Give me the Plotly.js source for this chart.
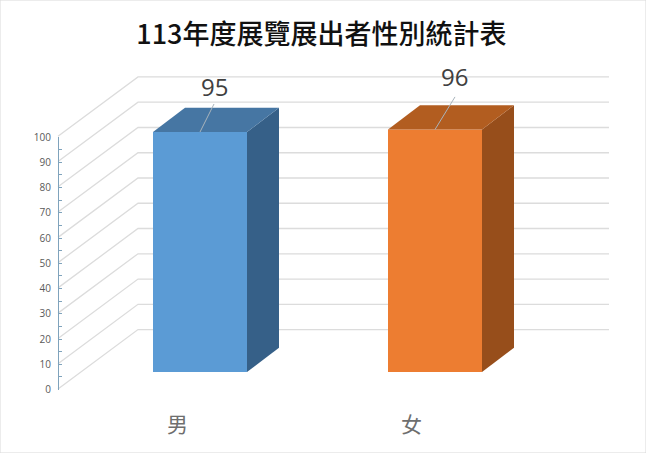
<!DOCTYPE html>
<html>
<head>
<meta charset="utf-8">
<script src="https://cdn.plot.ly/plotly-3.0.1.min.js"></script>
<style>html,body{margin:0;padding:0;background:#fff}</style>
</head>
<body>
<div id="chart" style="width:646px;height:453px"></div>
<script>
const categories = ['男', '女'];
const values = [95, 96];
const barCenters = [200, 435];
const labelXs = [177, 411];
const valueLabelXs = [214, 454];
const gridValues = [0, 10, 20, 30, 40, 50, 60, 70, 80, 90, 100];
const frontColors = ['#5B9BD5', '#ED7D31'];
const topColors = ['#4676A3', '#B25D20'];
const sideColors = ['#366088', '#974E1B'];
const title = '113年度展覽展出者性別統計表';

const W = 646, H = 453;
const unit = 2.526, zeroPx = 372;            // main scale: value 0 on the bar's front plane
const barW = 94, depthX = 32, depthY = 9.6;  // bar depth
const axisX = 58, wallX = 138, wallEnd = 609, axisShift = -6.7, wallShift = 16.8;
const leaderFrom = [214, 455], leaderRise = [11.1, 12.9], labelRise = [18.2, 20.8];

const cjk = '"Noto Sans CJK TC","Noto Sans",sans-serif';
const traces = [];

// walls (bottom subplot)
const gx = [], gy = [];
gridValues.forEach(v => {
  gx.push(axisX, wallX, wallEnd, null);
  gy.push(v + axisShift, v + wallShift, v + wallShift, null);
});
traces.push({type:'scatter', mode:'lines', x:gx, y:gy, xaxis:'x', yaxis:'y',
  line:{color:'#DCDCDC', width:1.3}, hoverinfo:'skip', showlegend:false});

// invisible trace that carries the value axis
traces.push({type:'scatter', mode:'markers', x:[0], y:[0], xaxis:'x2', yaxis:'y2',
  marker:{opacity:0}, hoverinfo:'skip', showlegend:false});

// front faces
traces.push({type:'bar', x:barCenters, y:values, width:barW, xaxis:'x3', yaxis:'y3',
  marker:{color:frontColors, line:{width:0}}, hoverinfo:'skip', showlegend:false});

// side and top faces
values.forEach((v, i) => {
  const l = barCenters[i] - barW / 2, r = barCenters[i] + barW / 2;
  traces.push({type:'scatter', mode:'lines', fill:'toself', fillcolor:sideColors[i],
    x:[r, r + depthX, r + depthX, r, r], y:[0, depthY, v + depthY, v, 0],
    xaxis:'x3', yaxis:'y3', line:{width:0, color:sideColors[i]}, hoverinfo:'skip', showlegend:false});
  traces.push({type:'scatter', mode:'lines', fill:'toself', fillcolor:topColors[i],
    x:[l, l + depthX, r + depthX, r, l], y:[v, v + depthY, v + depthY, v, v],
    xaxis:'x3', yaxis:'y3', line:{width:0, color:topColors[i]}, hoverinfo:'skip', showlegend:false});
  traces.push({type:'scatter', mode:'lines',
    x:[barCenters[i], leaderFrom[i]], y:[v, v + leaderRise[i]],
    xaxis:'x3', yaxis:'y3', line:{width:1, color:'#A9B4BC'}, hoverinfo:'skip', showlegend:false});
});

const mainRange = [(zeroPx - H) / unit, zeroPx / unit];
const hidden = {visible:false, showgrid:false, zeroline:false};
const layout = {
  width:W, height:H,
  margin:{l:0, r:0, t:0, b:0, pad:0},
  paper_bgcolor:'#fff', plot_bgcolor:'rgba(0,0,0,0)',
  showlegend:false, hovermode:false,
  title:{text:title, x:0.4975, xanchor:'center', y:0.9245, yanchor:'middle',
    font:{family:cjk, size:27, color:'#111', weight:500}},
  xaxis:Object.assign({range:[0, W], domain:[0, 1]}, hidden),
  yaxis:Object.assign({range:mainRange, domain:[0, 1]}, hidden),
  xaxis3:Object.assign({range:[0, W], overlaying:'x', matches:'x'}, hidden),
  yaxis3:Object.assign({range:mainRange, overlaying:'y', matches:'y'}, hidden),
  xaxis2:Object.assign({range:[0, W], domain:[0, 1], anchor:'y2'}, hidden),
  yaxis2:{
    range:[0, 100], domain:[(H - 389.5) / H, (H - 137) / H],
    anchor:'free', position:axisX / W, side:'left',
    showgrid:false, zeroline:false, showline:true, linecolor:'#7FA3BC', linewidth:1,
    tick0:0, dtick:10, ticks:'inside', ticklen:3, tickwidth:1, tickcolor:'#7FA3BC',
    minor:{dtick:5, ticks:'inside', ticklen:3, tickwidth:1, tickcolor:'#7FA3BC', showgrid:false},
    ticklabelstandoff:5,
    tickfont:{family:'"Open Sans",sans-serif', size:10, color:'#595959'}
  },
  annotations:[
    ...categories.map((c, i) => ({text:c, xref:'x', yref:'y', x:labelXs[i], y:-20.2,
      showarrow:false, xanchor:'center', yanchor:'middle',
      font:{family:cjk, size:21, color:'#6E6E6E'}})),
    ...values.map((v, i) => ({text:String(v), xref:'x', yref:'y', x:valueLabelXs[i], y:v + labelRise[i],
      showarrow:false, xanchor:'center', yanchor:'middle',
      font:{family:'"Open Sans",sans-serif', size:24, color:'#404040'}}))
  ],
  shapes:[{type:'rect', xref:'paper', yref:'paper', x0:0, x1:1, y0:0, y1:1,
    line:{color:'#D9D9D9', width:1}, fillcolor:'rgba(0,0,0,0)', layer:'above'}]
};
Plotly.newPlot('chart', traces, layout, {displayModeBar:false, staticPlot:true});
</script>
</body>
</html>
